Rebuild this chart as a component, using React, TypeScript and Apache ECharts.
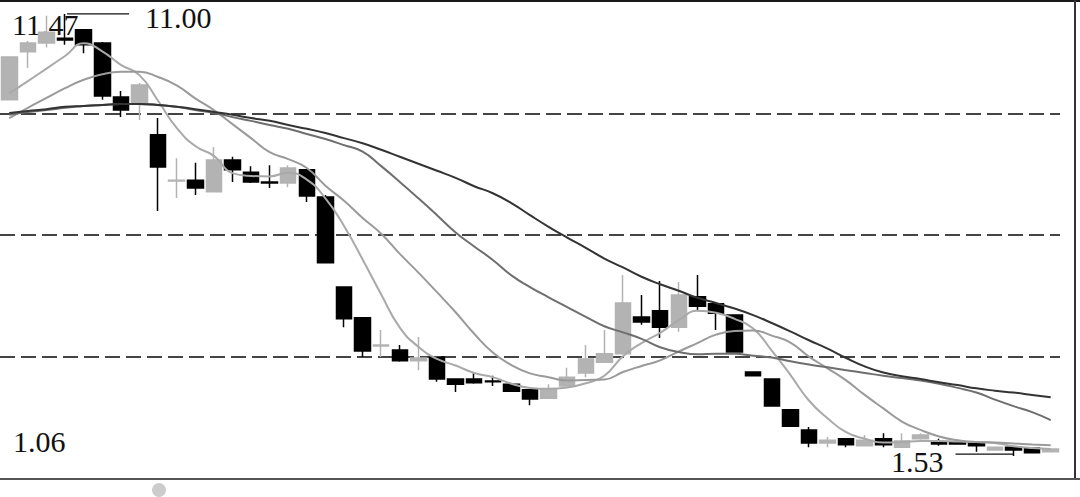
import React, { useEffect, useRef } from "react";
import * as echarts from "echarts";

const categories = [
  "1", "2", "3", "4", "5", "6", "7", "8", "9", "10",
  "11", "12", "13", "14", "15", "16", "17", "18", "19", "20",
  "21", "22", "23", "24", "25", "26", "27", "28", "29", "30",
  "31", "32", "33", "34", "35", "36", "37", "38", "39", "40",
  "41", "42", "43", "44", "45", "46", "47", "48", "49", "50",
  "51", "52", "53", "54", "55", "56", "57",
];

// [open, close, low, high]
const candles = [
  [9.16, 10.08, 9.16, 10.08],
  [10.19, 10.38, 9.84, 10.42],
  [10.38, 10.61, 10.28, 10.96],
  [10.48, 10.44, 10.34, 11.0],
  [10.66, 10.34, 10.16, 10.66],
  [10.38, 9.24, 9.16, 10.4],
  [9.22, 8.94, 8.79, 9.35],
  [9.09, 9.48, 8.73, 9.52],
  [8.41, 7.72, 6.78, 8.77],
  [7.42, 7.44, 7.06, 7.91],
  [7.44, 7.27, 7.12, 7.81],
  [7.19, 7.87, 7.18, 8.15],
  [7.87, 7.66, 7.4, 7.94],
  [7.61, 7.4, 7.38, 7.74],
  [7.4, 7.38, 7.27, 7.76],
  [7.38, 7.7, 7.29, 7.76],
  [7.66, 7.1, 6.97, 7.68],
  [7.08, 5.67, 5.66, 7.12],
  [5.15, 4.47, 4.29, 5.16],
  [4.49, 3.78, 3.65, 4.49],
  [3.89, 3.91, 3.65, 4.23],
  [3.8, 3.57, 3.55, 3.91],
  [3.57, 3.63, 3.37, 4.08],
  [3.65, 3.18, 3.12, 3.66],
  [3.18, 3.07, 2.9, 3.19],
  [3.18, 3.1, 3.08, 3.31],
  [3.14, 3.12, 3.03, 3.25],
  [3.07, 2.92, 2.91, 3.08],
  [2.95, 2.75, 2.62, 2.95],
  [2.77, 2.97, 2.76, 3.07],
  [3.03, 3.22, 3.02, 3.42],
  [3.31, 3.61, 3.22, 3.91],
  [3.54, 3.72, 3.53, 4.23],
  [3.72, 4.81, 3.7, 5.41],
  [4.51, 4.4, 4.34, 4.98],
  [4.64, 4.29, 4.06, 5.28],
  [4.29, 4.98, 4.19, 5.26],
  [4.94, 4.74, 4.66, 5.41],
  [4.79, 4.59, 4.23, 4.8],
  [4.55, 3.76, 3.75, 4.56],
  [3.33, 3.25, 3.24, 3.34],
  [3.18, 2.6, 2.59, 3.19],
  [2.52, 2.17, 2.16, 2.52],
  [2.09, 1.81, 1.72, 2.15],
  [1.81, 1.87, 1.72, 1.94],
  [1.9, 1.77, 1.72, 1.9],
  [1.75, 1.87, 1.74, 1.98],
  [1.9, 1.77, 1.72, 2.02],
  [1.72, 1.85, 1.72, 2.02],
  [1.9, 1.98, 1.88, 2.02],
  [1.83, 1.79, 1.75, 1.9],
  [1.83, 1.79, 1.78, 1.84],
  [1.81, 1.75, 1.62, 1.82],
  [1.66, 1.72, 1.65, 1.73],
  [1.72, 1.66, 1.53, 1.73],
  [1.7, 1.6, 1.59, 1.71],
  [1.62, 1.68, 1.61, 1.69],
];

const ma5 = [
  9.3, 9.56, 9.83, 10.1, 10.37, 10.2, 9.91, 9.69, 9.14, 8.56,
  8.17, 7.96, 7.59, 7.53, 7.52, 7.6, 7.45, 7.05, 6.46, 5.74,
  4.99, 4.28, 3.87, 3.61, 3.47, 3.31, 3.22, 3.08, 2.99, 2.97,
  3.0, 3.09, 3.25, 3.67, 3.95, 4.17, 4.44, 4.64, 4.6, 4.47,
  4.26, 3.79, 3.27, 2.72, 2.34, 2.04, 1.9, 1.82, 1.83, 1.85,
  1.85, 1.84, 1.83, 1.81, 1.74, 1.7, 1.68,
];
const ma10 = [
  8.77, 8.99, 9.2, 9.41, 9.59, 9.71, 9.76, 9.76, 9.65, 9.47,
  9.19, 8.94, 8.64, 8.34, 8.04, 7.89, 7.7, 7.32, 7.0, 6.63,
  6.29, 5.86, 5.46, 5.04, 4.61, 4.15, 3.75, 3.48, 3.3, 3.22,
  3.15, 3.16, 3.17, 3.33, 3.46, 3.58, 3.77, 3.95, 4.13, 4.21,
  4.22, 4.11, 3.96, 3.66, 3.41, 3.15, 2.84, 2.55, 2.27, 2.09,
  1.95, 1.87, 1.83, 1.82, 1.8, 1.78, 1.76,
];
const ma20 = [
  8.84, 8.9, 8.94, 8.99, 9.03, 9.05, 9.07, 9.07, 9.05, 9.01,
  8.94, 8.88, 8.79, 8.71, 8.62, 8.54, 8.43, 8.32, 8.19, 8.05,
  7.74, 7.4, 7.05, 6.69, 6.32, 6.02, 5.73, 5.4, 5.15, 4.93,
  4.72, 4.51, 4.31, 4.18, 4.04, 3.86, 3.76, 3.71, 3.72, 3.72,
  3.68, 3.64, 3.56, 3.49, 3.43, 3.37, 3.31, 3.25, 3.2, 3.15,
  3.08, 2.99, 2.89, 2.74, 2.6, 2.47, 2.3,
];
const ma30 = [
  8.88, 8.92, 8.96, 9.01, 9.03, 9.05, 9.07, 9.07, 9.05, 9.01,
  8.96, 8.9, 8.84, 8.77, 8.71, 8.62, 8.54, 8.45, 8.34, 8.23,
  8.09, 7.94, 7.79, 7.64, 7.49, 7.31, 7.16, 6.95, 6.69, 6.44,
  6.21, 5.99, 5.76, 5.57, 5.37, 5.21, 5.07, 4.92, 4.81, 4.69,
  4.55, 4.38, 4.2, 4.01, 3.83, 3.63, 3.45, 3.32, 3.24, 3.18,
  3.11, 3.05, 2.98, 2.93, 2.89, 2.84, 2.79,
];

// price range of the panel (labels at its corners) and the extreme marks
const axisMin = 1.06;
const axisMax = 11.47;
const highIndex = 3;
const highValue = 11.0;
const lowIndex = 54;
const lowValue = 1.53;

const UP = "#b3b3b3";
const DOWN = "#000000";
const FONT = '30px "Liberation Serif", "Times New Roman", serif';

// the panel's price range extends 8px above the visible top edge
const PANEL_H = 486;
const HIDDEN_TOP = 8;

export default function App() {
  const ref = useRef<HTMLDivElement>(null);

  useEffect(() => {
    document.body.style.margin = "0";
    if (!ref.current) return;
    const chart = echarts.init(ref.current, undefined, { renderer: "svg" });
    const line = (data: number[], color: string) => ({
      type: "line",
      data,
      smooth: true,
      symbol: "none",
      silent: true,
      lineStyle: { color, width: 2 },
      z: 3,
    });
    const span = axisMax - axisMin;
    const visibleMax = axisMax - (span * HIDDEN_TOP) / PANEL_H;
    chart.setOption({
      animation: false,
      backgroundColor: "#ffffff",
      grid: { left: 0, top: 0, width: 1060, height: PANEL_H - HIDDEN_TOP },
      xAxis: {
        type: "category",
        data: categories,
        boundaryGap: true,
        show: false,
      },
      yAxis: {
        type: "value",
        min: axisMin,
        max: visibleMax,
        interval: span / 4,
        axisLine: { show: false },
        axisTick: { show: false },
        axisLabel: { show: false },
        splitLine: {
          show: true,
          showMinLine: false,
          showMaxLine: false,
          lineStyle: { color: "#444444", width: 2, type: [15, 6] },
        },
      },
      series: [
        {
          type: "candlestick",
          data: candles,
          barWidth: 16,
          itemStyle: {
            color: UP,
            color0: DOWN,
            borderColor: UP,
            borderColor0: DOWN,
            borderWidth: 1.5,
          },
          z: 2,
        },
        line(ma5, "#a9a9a9"),
        line(ma10, "#9a9a9a"),
        line(ma20, "#6e6e6e"),
        line(ma30, "#333333"),
      ],
    });

    const hp = chart.convertToPixel({ seriesIndex: 0 }, [highIndex, highValue]) as number[];
    const lp = chart.convertToPixel({ seriesIndex: 0 }, [lowIndex, lowValue]) as number[];

    chart.setOption({
      graphic: [
        { type: "line", shape: { x1: 0, y1: 1, x2: 1080, y2: 1 }, style: { stroke: "#1a1a1a", lineWidth: 2 }, z: 10 },
        { type: "line", shape: { x1: 1075, y1: 0, x2: 1075, y2: 479 }, style: { stroke: "#333333", lineWidth: 2 }, z: 10 },
        { type: "line", shape: { x1: 0, y1: 479, x2: 1080, y2: 479 }, style: { stroke: "#555555", lineWidth: 2 }, z: 10 },
        { type: "circle", shape: { cx: 159, cy: 490, r: 7 }, style: { fill: "#cccccc" }, z: 10 },
        {
          type: "line",
          shape: { x1: hp[0] + 2, y1: hp[1], x2: hp[0] + 64, y2: hp[1] },
          style: { stroke: "#111111", lineWidth: 1.2 },
          z: 10,
        },
        {
          type: "text",
          x: hp[0] + 80,
          y: hp[1] + 4,
          style: { text: highValue.toFixed(2), font: FONT, fill: "#111111", verticalAlign: "middle", align: "left" },
          z: 10,
        },
        {
          type: "line",
          shape: { x1: lp[0] - 58, y1: lp[1] - 2, x2: lp[0], y2: lp[1] - 2 },
          style: { stroke: "#111111", lineWidth: 1.2 },
          z: 10,
        },
        {
          type: "text",
          x: lp[0] - 70,
          y: lp[1] + 5,
          style: { text: lowValue.toFixed(2), font: FONT, fill: "#111111", verticalAlign: "middle", align: "right" },
          z: 10,
        },
        {
          type: "text",
          x: 12,
          y: 24,
          style: { text: axisMax.toFixed(2), font: FONT, fill: "#111111", verticalAlign: "middle", align: "left" },
          z: 1,
        },
        {
          type: "text",
          x: 13,
          y: 441,
          style: { text: axisMin.toFixed(2), font: FONT, fill: "#111111", verticalAlign: "middle", align: "left" },
          z: 10,
        },
      ],
    });

    return () => chart.dispose();
  }, []);

  return (
    <div
      ref={ref}
      style={{ position: "fixed", left: 0, top: 0, width: 1080, height: 497, background: "#fff" }}
    />
  );
}
